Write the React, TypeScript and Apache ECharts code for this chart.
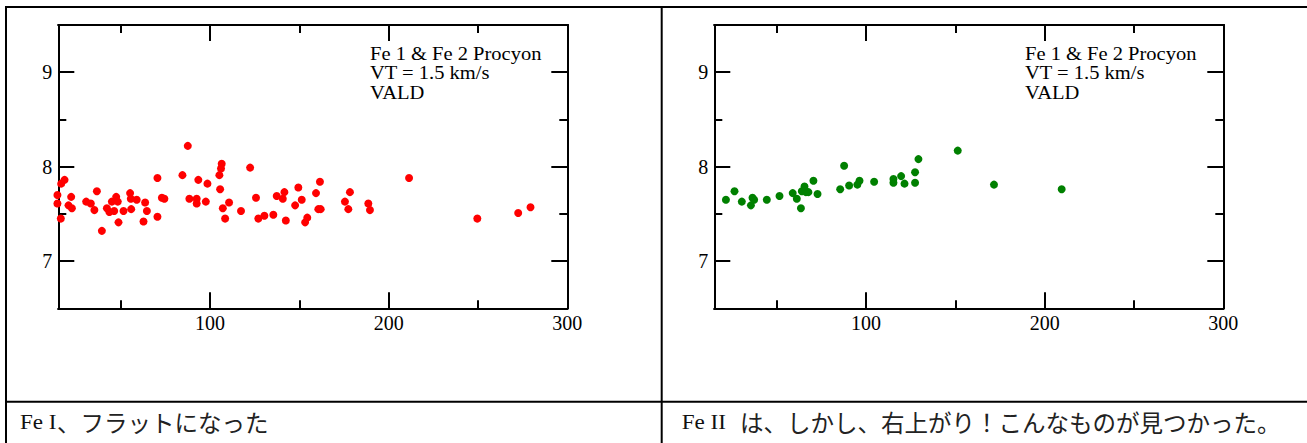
import React, { useEffect, useRef } from "react";
import * as echarts from "echarts";

// ---- data ----
const feIX = [14.5, 14.5, 16.4, 16.6, 18.5, 20.7, 22.2, 22.6, 30.6, 33.2, 35.2, 36.6, 39.4, 42.2, 43.6, 45, 46.3, 47.4, 48.3, 48.7, 51.5, 55.2, 55.6, 55.8, 58.9, 62.7, 63.6, 64.6, 70.5, 70.5, 73, 74.4, 84.5, 87.5, 88.4, 92.5, 92.5, 93.4, 97.6, 98.5, 105.2, 105.6, 106.1, 106.5, 107.1, 108.4, 110.6, 117.3, 122.4, 125.7, 127, 130.4, 135.4, 137.3, 140.7, 141.6, 142.4, 147.6, 149.4, 151.3, 153.2, 154.4, 159.3, 160.6, 161.5, 161.9, 175.5, 177.4, 178.3, 188.6, 189.5, 211.4, 249.6, 272.5, 279.4];
const feIY = [7.7, 7.61, 7.45, 7.82, 7.86, 7.59, 7.68, 7.56, 7.63, 7.61, 7.54, 7.74, 7.32, 7.56, 7.52, 7.63, 7.53, 7.68, 7.63, 7.41, 7.53, 7.72, 7.66, 7.55, 7.65, 7.42, 7.62, 7.53, 7.88, 7.47, 7.67, 7.66, 7.91, 8.22, 7.66, 7.66, 7.61, 7.86, 7.63, 7.82, 7.91, 7.76, 7.98, 8.03, 7.56, 7.45, 7.62, 7.53, 7.99, 7.67, 7.45, 7.48, 7.49, 7.69, 7.66, 7.73, 7.43, 7.59, 7.78, 7.65, 7.41, 7.46, 7.72, 7.55, 7.84, 7.55, 7.63, 7.55, 7.73, 7.61, 7.54, 7.88, 7.45, 7.51, 7.57];
const feIIX = [21.5, 26.3, 30.4, 35.5, 36.4, 37.3, 44.4, 51.5, 58.9, 61.2, 63.5, 64.0, 65.5, 66.3, 67.7, 70.5, 72.8, 85.5, 87.7, 90.5, 95.1, 96.3, 104.5, 115.3, 115.3, 119.6, 121.5, 127.4, 127.4, 129.3, 151.3, 171.6, 209.5];
const feIIY = [7.65, 7.74, 7.63, 7.59, 7.67, 7.65, 7.65, 7.69, 7.72, 7.66, 7.56, 7.74, 7.79, 7.73, 7.73, 7.85, 7.71, 7.76, 8.01, 7.8, 7.81, 7.85, 7.84, 7.87, 7.83, 7.9, 7.82, 7.94, 7.83, 8.08, 8.17, 7.81, 7.76];

const xMajorTicks = [100, 200, 300];
const xMinorTicks = [50, 150, 250];
const yMajorTicks = [7, 8, 9];
const yMinorTicks = [7.5, 8.5];
const annotationLines = ["Fe 1 & Fe 2 Procyon", "VT = 1.5 km/s", "VALD"];
const captionLeft = ["Fe I", "、フラットになった"];
const captionRight = ["Fe II", "は、しかし、右上がり！こんなものが見つかった。"];

const FONT = '"Liberation Serif", "Times New Roman", serif';
const JA_FONT = '"Noto Sans CJK JP", sans-serif';

const X_MIN = 15, X_MAX = 300, Y_MIN = 6.5, Y_MAX = 9.5;

function xAxesFor(grid: number) {
  const base = {
    gridIndex: grid, type: "value", min: X_MIN, max: X_MAX,
    splitLine: { show: false },
  };
  const line = { show: true, onZero: false, lineStyle: { color: "#000", width: 2 } };
  const mk = (position: string, ticks: number[], len: number, labels: boolean) => ({
    ...base,
    position,
    axisLine: line,
    axisTick: { show: true, inside: true, length: len, customValues: ticks, lineStyle: { color: "#000", width: 2 } },
    axisLabel: labels
      ? { show: true, customValues: xMajorTicks, margin: 5, fontSize: 20, fontFamily: FONT, color: "#000" }
      : { show: false },
  });
  return [
    mk("bottom", xMajorTicks, 16, true),
    mk("bottom", xMinorTicks, 8, false),
    mk("top", xMajorTicks, 16, false),
    mk("top", xMinorTicks, 8, false),
  ];
}

function yAxesFor(grid: number) {
  const base = {
    gridIndex: grid, type: "value", min: Y_MIN, max: Y_MAX,
    splitLine: { show: false },
  };
  const line = { show: true, onZero: false, lineStyle: { color: "#000", width: 2 } };
  const mk = (position: string, ticks: number[], len: number, labels: boolean) => ({
    ...base,
    position,
    axisLine: line,
    axisTick: { show: true, inside: true, length: len, customValues: ticks, lineStyle: { color: "#000", width: 2 } },
    axisLabel: labels
      ? { show: true, customValues: yMajorTicks, margin: 6, fontSize: 20, fontFamily: FONT, color: "#000" }
      : { show: false },
  });
  return [
    mk("left", yMajorTicks, 16, true),
    mk("left", yMinorTicks, 8, false),
    mk("right", yMajorTicks, 16, false),
    mk("right", yMinorTicks, 8, false),
  ];
}

function annotation(x: number) {
  return {
    type: "text", x, y: 43.9, scaleX: 1.08, silent: true,
    style: {
      text: annotationLines.join("\n"), fontSize: 19, lineHeight: 19.2,
      fontFamily: FONT, fill: "#000", verticalAlign: "top", align: "left",
    },
  };
}

function caption(x: number, jaX: number, parts: string[]) {
  return [
    {
      type: "text", x, y: 421.5, scaleX: 1.1, silent: true,
      style: { text: parts[0], fontSize: 21, fontFamily: FONT, fill: "#111", verticalAlign: "middle", align: "left" },
    },
    {
      type: "text", x: jaX, y: 421.5, silent: true,
      style: { text: parts[1], fontSize: 23.5, fontFamily: JA_FONT, fill: "#222", verticalAlign: "middle", align: "left" },
    },
  ];
}

export default function App() {
  const ref = useRef<HTMLDivElement>(null);
  useEffect(() => {
    if (!ref.current) return;
    const chart = echarts.init(ref.current, undefined, { renderer: "svg" });
    const borders = [
      { x1: 5, y1: 7, x2: 1307, y2: 7 },
      { x1: 6, y1: 6, x2: 6, y2: 443 },
      { x1: 661.7, y1: 7, x2: 661.7, y2: 443 },
      { x1: 6, y1: 401.8, x2: 1307, y2: 401.8 },
    ].map((s) => ({ type: "line", shape: s, silent: true, style: { stroke: "#000", lineWidth: 2 } }));
    chart.setOption({
      animation: false,
      backgroundColor: "#fff",
      grid: [
        { left: 58.3, top: 25, width: 509, height: 283.3, containLabel: false },
        { left: 714.3, top: 25, width: 509, height: 283.3, containLabel: false },
      ],
      xAxis: [...xAxesFor(0), ...xAxesFor(1)],
      yAxis: [...yAxesFor(0), ...yAxesFor(1)],
      series: [
        {
          type: "scatter", xAxisIndex: 0, yAxisIndex: 0, clip: false,
          symbol: "circle", symbolSize: 8,
          itemStyle: { color: "#ff0000", opacity: 1 },
          data: feIX.map((x, i) => [x, feIY[i]]),
        },
        {
          type: "scatter", xAxisIndex: 4, yAxisIndex: 4, clip: false,
          symbol: "circle", symbolSize: 8,
          itemStyle: { color: "#008000", opacity: 1 },
          data: feIIX.map((x, i) => [x, feIIY[i]]),
        },
      ],
      graphic: [
        ...borders,
        annotation(370),
        annotation(1025),
        ...caption(20, 57, captionLeft),
        ...caption(681.7, 740, captionRight),
      ],
    });
    return () => chart.dispose();
  }, []);
  return (
    <div
      ref={ref}
      style={{ position: "fixed", left: 0, top: 0, width: 1307, height: 443, background: "#fff" }}
    />
  );
}
